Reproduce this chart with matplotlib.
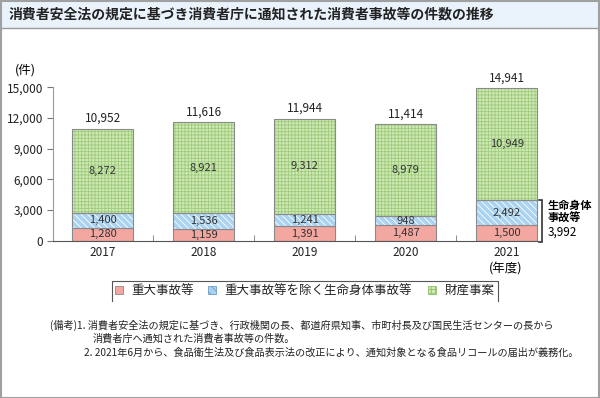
import matplotlib
matplotlib.use("Agg")
import matplotlib.pyplot as plt
from matplotlib import font_manager
from matplotlib.patches import Rectangle
from matplotlib.lines import Line2D

# data
years = ["2017", "2018", "2019", "2020", "2021"]
serious = [1280, 1159, 1391, 1487, 1500]
life_body = [1400, 1536, 1241, 948, 2492]
property_cases = [8272, 8921, 9312, 8979, 10949]
totals = [10952, 11616, 11944, 11414, 14941]
series_names = ["重大事故等", "重大事故等を除く生命身体事故等", "財産事案"]
yticks = [0, 3000, 6000, 9000, 12000, 15000]

title = "消費者安全法の規定に基づき消費者庁に通知された消費者事故等の件数の推移"
notes = [
    "(備考)1. 消費者安全法の規定に基づき、行政機関の長、都道府県知事、市町村長及び国民生活センターの長から",
    "消費者庁へ通知された消費者事故等の件数。",
    "2. 2021年6月から、食品衛生法及び食品表示法の改正により、通知対象となる食品リコールの届出が義務化。",
]

plt.rcParams['font.family'] = ['Noto Sans CJK JP', 'DejaVu Sans']
plt.rcParams['hatch.linewidth'] = 0.6

available = {f.name for f in font_manager.fontManager.ttflist}
num_font = ['Liberation Sans Narrow'] if 'Liberation Sans Narrow' in available else ['Noto Sans CJK JP']

W, H = 600, 398
def fx(x):
    return x / W
def fy(y):
    return 1 - y / H

fig = plt.figure(figsize=(6, 3.98), dpi=100)

# title bar and frame
fig.patches.append(Rectangle((0, fy(28)), 1, 28 / H, transform=fig.transFigure,
                             facecolor="#eaf3fb", edgecolor="none", zorder=0))
fig.lines.append(Line2D([0, 1], [fy(28), fy(28)], transform=fig.transFigure,
                        color="#9a9a9a", lw=1))
fig.patches.append(Rectangle((0.001, 0.001), 0.998, 0.997, transform=fig.transFigure,
                             fill=False, edgecolor="#a0a0a0", lw=1.5, zorder=5))
fig.text(fx(9), fy(15), title, fontsize=10, fontweight="bold", color="#222222",
         va="center", ha="left")

ax = fig.add_axes([fx(52.7), fy(240.7), (540 - 52.7) / W, (240.7 - 87.3) / H])

blue_face = "#a9d3f0"
green_face = "#cfe8b4"
edge = "#8a8a8a"
x = list(range(len(years)))
bw = 0.604

bottom2 = [a + b for a, b in zip(serious, life_body)]
ax.bar(x, serious, bw, color="#f2a7a1", edgecolor=edge, lw=0.8, zorder=2)
ax.bar(x, life_body, bw, bottom=serious, color=blue_face, edgecolor="white",
       lw=0, hatch="\\\\\\\\\\", zorder=2)
ax.bar(x, life_body, bw, bottom=serious, fill=False, edgecolor=edge, lw=0.8, zorder=3)
ax.bar(x, property_cases, bw, bottom=bottom2, color=green_face, edgecolor="#9dcb7c",
       lw=0, hatch="+++++", zorder=2)
ax.bar(x, property_cases, bw, bottom=bottom2, fill=False, edgecolor=edge, lw=0.8, zorder=3)

for i in x:
    ax.text(i, serious[i] / 2, f"{serious[i]:,}", ha="center", va="center",
            fontsize=8, color="#333333", family=num_font, zorder=4)
    ax.text(i, serious[i] + life_body[i] / 2, f"{life_body[i]:,}", ha="center",
            va="center", fontsize=8, color="#333333", family=num_font, zorder=4)
    ax.text(i, bottom2[i] + property_cases[i] / 2, f"{property_cases[i]:,}", ha="center",
            va="center", fontsize=8, color="#333333", family=num_font, zorder=4)
    ax.text(i, totals[i] + 350, f"{totals[i]:,}", ha="center", va="bottom",
            fontsize=8.5, color="#222222", family=num_font)

ax.set_xlim(-0.496, 4.33)
ax.set_ylim(0, 15000)
ax.set_yticks(yticks)
ax.set_yticklabels([f"{v:,}" for v in yticks], family=num_font, fontsize=8.5)
ax.set_xticks(x)
ax.set_xticklabels(years, family=num_font, fontsize=8.5)
ax.set_xticks([0.5, 1.5, 2.5, 3.5], minor=True)
ax.tick_params(axis="x", which="major", length=0, pad=4, colors="#222222")
ax.tick_params(axis="x", which="minor", direction="in", length=4, color="#777777")
ax.tick_params(axis="y", length=4, color="#777777", labelcolor="#222222", pad=3)
for s in ["top", "right"]:
    ax.spines[s].set_visible(False)
ax.spines["left"].set_color("#999999")
ax.spines["bottom"].set_color("#555555")
ax.patch.set_alpha(0)

# bracket for 2021 life/body total
bx = 4 + (541.7 - 506.8) / 101
tip = 4 + bw / 2 + 0.02
ax.plot([tip, bx, bx, tip], [bottom2[4], bottom2[4], -150, -150], color="#333333",
        lw=1.2, clip_on=False, solid_joinstyle="miter")
fig.text(fx(548), fy(205), "生命身体", fontsize=8, fontweight="bold", va="center")
fig.text(fx(548), fy(218), "事故等", fontsize=8, fontweight="bold", va="center")
fig.text(fx(548), fy(232), f"{bottom2[4]:,}", fontsize=8.5, family=num_font, va="center")

fig.text(fx(15), fy(70), "(件)", fontsize=9, va="center")
fig.text(fx(522), fy(269), "(年度)", fontsize=9, va="center", ha="right")

# legend box (top and sides only)
lx0, lx1, ly0, ly1 = 111.7, 498, 281, 301
fig.lines.append(Line2D([fx(lx0), fx(lx0), fx(lx1), fx(lx1)], [fy(ly1), fy(ly0), fy(ly0), fy(ly1)],
                        transform=fig.transFigure, color="#555555", lw=0.8))
leg_items = [
    (115, 131.7, dict(facecolor="#f2a7a1", edgecolor=edge, lw=0.6)),
    (208, 224, dict(facecolor=blue_face, edgecolor="#6f9fc7", lw=0.6, hatch="\\\\\\\\")),
    (428, 445, dict(facecolor=green_face, edgecolor="#8fc06a", lw=0.6, hatch="++++")),
]
for (px, tx, style), name in zip(leg_items, series_names):
    fig.patches.append(Rectangle((fx(px), fy(294)), 8 / W, 8 / H, transform=fig.transFigure, **style))
    fig.text(fx(tx), fy(290), name, fontsize=9, va="center", color="#222222")

fig.text(fx(50), fy(325), notes[0], fontsize=7.3, va="center", color="#222222")
fig.text(fx(93), fy(339), notes[1], fontsize=7.3, va="center", color="#222222")
fig.text(fx(84), fy(353), notes[2], fontsize=7.3, va="center", color="#222222")

fig.savefig("out.png", dpi=100)
